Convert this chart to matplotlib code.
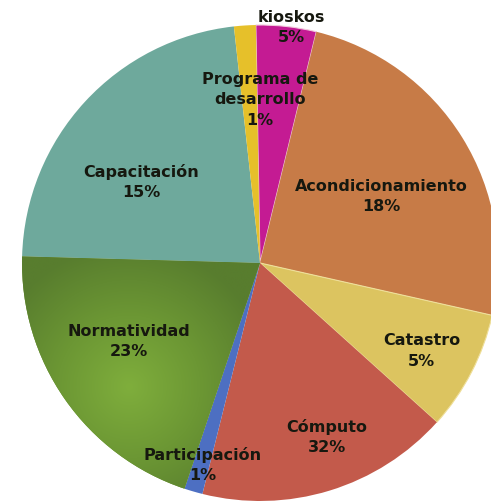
import numpy as np
import matplotlib
matplotlib.use("Agg")
import matplotlib.pyplot as plt
from matplotlib.colors import LinearSegmentedColormap

# ---- data ----
categories = ["kioskos", "Acondicionamiento", "Catastro", "Cómputo",
              "Participación", "Normatividad", "Capacitación", "Programa de\ndesarrollo"]
pct_labels = ["5%", "18%", "5%", "32%", "1%", "23%", "15%", "1%"]
# slice sizes as drawn in the picture (degrees of arc)
slice_sizes = [14.7, 89.0, 29.3, 62.0, 4.5, 73.1, 82.1, 5.3]
colors = ["#c41b93", "#c77b47", "#dcc460", "#c35a4b", "#4d6fc2",
          "#66902f", "#6ea99c", "#e6c02a"]

# label anchor points (layout, data units with pie radius = 1)
label_pos = [(0.13, 0.99), (0.51, 0.28), (0.68, -0.37), (0.28, -0.73),
             (-0.24, -0.85), (-0.55, -0.33), (-0.50, 0.34), (0.0, 0.685)]

W, H = 491, 501
fig = plt.figure(figsize=(W / 100, H / 100), dpi=100)
ax = fig.add_axes([0, 0, 1, 1])

cx, cy, R = 260, 263, 238
wedges, _ = ax.pie(slice_sizes, colors=colors, startangle=91, counterclock=False,
                   radius=1.0, wedgeprops=dict(linewidth=0))

# thin light separators like in reference
wedges[0].set_edgecolor("#f2c9dc"); wedges[0].set_linewidth(0.8)
wedges[2].set_edgecolor("#efdf9a"); wedges[2].set_linewidth(0.8)

# radial gradient for Normatividad wedge
gx = np.linspace(-1.1, 0.1, 300)
gy = np.linspace(-1.05, 0.05, 300)
GX, GY = np.meshgrid(gx, gy)
d = np.sqrt((GX + 0.55) ** 2 + (GY + 0.52) ** 2)
cmap = LinearSegmentedColormap.from_list("g", ["#7fae3c", "#6c9734", "#587d2e"])
im = ax.imshow(d, extent=(gx[0], gx[-1], gy[0], gy[-1]), origin="lower",
               cmap=cmap, vmin=0.0, vmax=0.6, zorder=wedges[5].get_zorder() + 0.1)
im.set_clip_path(wedges[5])

for name, pct, (x, y) in zip(categories, pct_labels, label_pos):
    ax.text(x, y, f"{name}\n{pct}", ha="center", va="center", fontsize=11.5,
            fontweight="bold", color="#16180f", linespacing=1.45, zorder=10)

ax.set_xlim(-cx / R, (W - cx) / R)
ax.set_ylim(-(H - cy) / R, cy / R)
ax.set_aspect("auto")
ax.axis("off")
fig.savefig("out.png", dpi=100, facecolor="white")
